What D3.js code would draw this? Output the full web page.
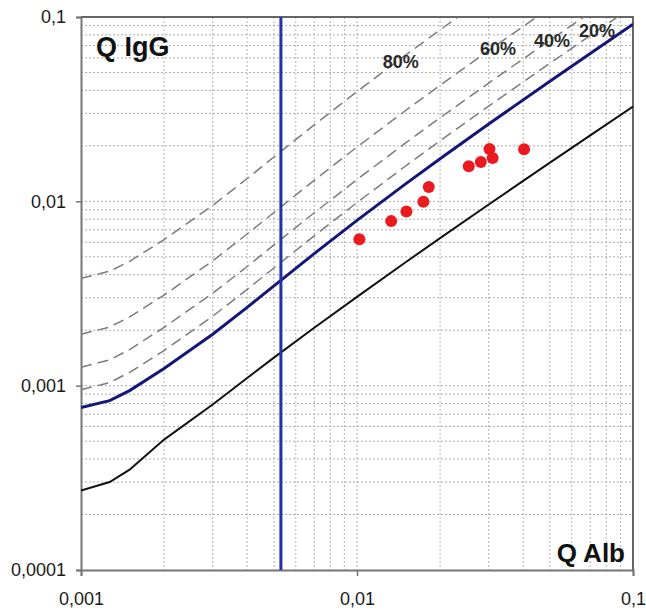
<!DOCTYPE html>
<meta charset="utf-8">
<html>
<head>
    <title>Reibergram IgG</title>
    <style>
        body { margin: 0; background: #fff; }
        svg text { font-family: "Liberation Sans", Arial, sans-serif; }
    </style>
    <script src="https://d3js.org/d3.v7.min.js"></script>
</head>
<body>
    <div id="chart"></div>
    <script>
        // Q Alb sample points used for all curves
        var qAlb = [0.001, 0.00127, 0.0015, 0.002, 0.003, 0.004, 0.005, 0.007, 0.01, 0.015, 0.02, 0.03, 0.05, 0.07, 0.1];

        // upper (blue) and lower (black) reference limits
        var upperLimit = [0.00076, 0.00083, 0.00094, 0.00124, 0.0019, 0.00266, 0.00348, 0.0052, 0.00788, 0.01244, 0.01704, 0.02629, 0.04486, 0.06344, 0.09133];
        var lowerLimit = [0.00027, 0.0003, 0.00035, 0.00051, 0.00079, 0.0011, 0.00142, 0.00206, 0.00303, 0.00467, 0.00632, 0.00961, 0.01621, 0.0228, 0.0327];

        // intrathecal fraction lines (dashed)
        var if20 = [0.00095, 0.00104, 0.00118, 0.00155, 0.00238, 0.00333, 0.00435, 0.0065, 0.00985, 0.01555, 0.0213, 0.03286, 0.05608, 0.0793, 0.1142];
        var if40 = [0.00126, 0.00138, 0.00157, 0.00207, 0.00317, 0.00443, 0.0058, 0.00867, 0.01313, 0.02073, 0.0284, 0.04382, 0.07477, 0.10573, 0.1522];
        var if60 = [0.0019, 0.00208, 0.00236, 0.0031, 0.00475, 0.00665, 0.0087, 0.013, 0.0197, 0.0311, 0.0426, 0.06573, 0.11215, 0.1586, 0.2283];
        var if80 = [0.00382, 0.00418, 0.00472, 0.0062, 0.0095, 0.0133, 0.0174, 0.026, 0.0394, 0.0622, 0.0852, 0.13145, 0.2243, 0.3172, 0.4567];
        var ifLabels = ["20%", "40%", "60%", "80%"];
        // label anchor (Q Alb, Q IgG) for each label
        var ifLabelAlb = [0.074, 0.0509, 0.0324, 0.0144];
        var ifLabelIgG = [0.0778, 0.0687, 0.0622, 0.0528];

        // age dependent Q Alb limit
        var qAlbLimit = 0.0053;

        // patient values
        var patientAlb = [0.0102, 0.0133, 0.0151, 0.0174, 0.0182, 0.0254, 0.0281, 0.0302, 0.031, 0.0403];
        var patientIgG = [0.00622, 0.00781, 0.00882, 0.00996, 0.01196, 0.0155, 0.01636, 0.01925, 0.0172, 0.01917];

        var xTicks = [0.001, 0.01, 0.1];
        var yTicks = [0.0001, 0.001, 0.01, 0.1];

        var margin = { top: 17, right: 13, bottom: 40, left: 81 },
            width = 646 - margin.left - margin.right,
            height = 610 - margin.top - margin.bottom;

        var svg = d3.select("#chart").append("svg")
            .attr("width", 646)
            .attr("height", 610)
            .append("g")
            .attr("transform", "translate(" + margin.left + "," + margin.top + ")");

        var x = d3.scaleLog().domain([0.001, 0.1]).range([0, width]);
        var y = d3.scaleLog().domain([0.0001, 0.1]).range([height, 0]);

        svg.append("clipPath").attr("id", "clip")
            .append("rect").attr("width", width).attr("height", height);

        // minor grid: 1..9 in each decade
        var gridX = [], gridY = [];
        [0.001, 0.01].forEach(function (d) {
            for (var i = 1; i < 10; i++) gridX.push(d * i);
        });
        [0.0001, 0.001, 0.01].forEach(function (d) {
            for (var i = 1; i < 10; i++) gridY.push(d * i);
        });

        svg.append("g").selectAll("line")
            .data(gridX.slice(1))
            .enter().append("line")
            .attr("x1", function (d) { return x(d); })
            .attr("x2", function (d) { return x(d); })
            .attr("y1", 0).attr("y2", height)
            .attr("stroke", "#b4b5aa")
            .attr("stroke-dasharray", "2,2");

        svg.append("g").selectAll("line")
            .data(gridY.slice(1))
            .enter().append("line")
            .attr("y1", function (d) { return y(d); })
            .attr("y2", function (d) { return y(d); })
            .attr("x1", 0).attr("x2", width)
            .attr("stroke", "#acacac")
            .attr("stroke-dasharray", "2,2");

        // axes
        var fmt = function (d) { return String(d).replace(".", ","); };

        var yAxis = svg.append("g")
            .call(d3.axisLeft(y).tickValues(yTicks).tickFormat(fmt).tickSize(5).tickPadding(10));
        var xAxis = svg.append("g")
            .attr("transform", "translate(0," + height + ")")
            .call(d3.axisBottom(x).tickValues(xTicks).tickFormat(fmt).tickSize(6).tickPadding(16));

        [xAxis, yAxis].forEach(function (a) {
            a.select(".domain").attr("stroke", "#777").attr("stroke-width", 2);
            a.selectAll(".tick line").attr("stroke", "#777").attr("stroke-width", 1.5);
            a.selectAll(".tick text").attr("font-size", 18).attr("fill", "#1a1a1a");
        });

        // frame top / right
        svg.append("path")
            .attr("d", "M0,0H" + width + "V" + height)
            .attr("fill", "none")
            .attr("stroke", "#666")
            .attr("stroke-width", 2);

        var line = d3.line()
            .x(function (d) { return x(d[0]); })
            .y(function (d) { return y(d[1]); });

        var plot = svg.append("g").attr("clip-path", "url(#clip)");

        // dashed fraction lines
        [if20, if40, if60, if80].forEach(function (s) {
            plot.append("path")
                .datum(d3.zip(qAlb, s))
                .attr("d", line)
                .attr("fill", "none")
                .attr("stroke", "#7c7c7c")
                .attr("stroke-width", 1.5)
                .attr("stroke-dasharray", "11,6");
        });

        plot.append("path")
            .datum(d3.zip(qAlb, lowerLimit))
            .attr("d", line)
            .attr("fill", "none")
            .attr("stroke", "#111")
            .attr("stroke-width", 2);

        plot.append("path")
            .datum(d3.zip(qAlb, upperLimit))
            .attr("d", line)
            .attr("fill", "none")
            .attr("stroke", "#16167a")
            .attr("stroke-width", 3);

        // vertical Q Alb limit
        plot.append("line")
            .attr("x1", x(qAlbLimit)).attr("x2", x(qAlbLimit))
            .attr("y1", 0).attr("y2", height)
            .attr("stroke", "#2231a8")
            .attr("stroke-width", 3);

        // patients
        plot.selectAll("circle")
            .data(d3.zip(patientAlb, patientIgG))
            .enter().append("circle")
            .attr("cx", function (d) { return x(d[0]); })
            .attr("cy", function (d) { return y(d[1]); })
            .attr("r", 6)
            .attr("fill", "#ea1a1f");

        // percent labels
        svg.selectAll(".iflabel")
            .data(ifLabels)
            .enter().append("text")
            .attr("class", "iflabel")
            .attr("x", function (d, i) { return x(ifLabelAlb[i]); })
            .attr("y", function (d, i) { return y(ifLabelIgG[i]); })
            .attr("text-anchor", "middle")
            .attr("font-size", 18)
            .attr("font-weight", "bold")
            .attr("fill", "#2a2a2a")
            .text(function (d) { return d; });

        svg.append("text")
            .attr("x", 15).attr("y", 39)
            .attr("font-size", 27)
            .attr("font-weight", "bold")
            .attr("fill", "#111")
            .text("Q IgG");

        svg.append("text")
            .attr("x", width - 8).attr("y", height - 8)
            .attr("text-anchor", "end")
            .attr("font-size", 26)
            .attr("font-weight", "bold")
            .attr("fill", "#111")
            .text("Q Alb");
    </script>
</body>
</html>
